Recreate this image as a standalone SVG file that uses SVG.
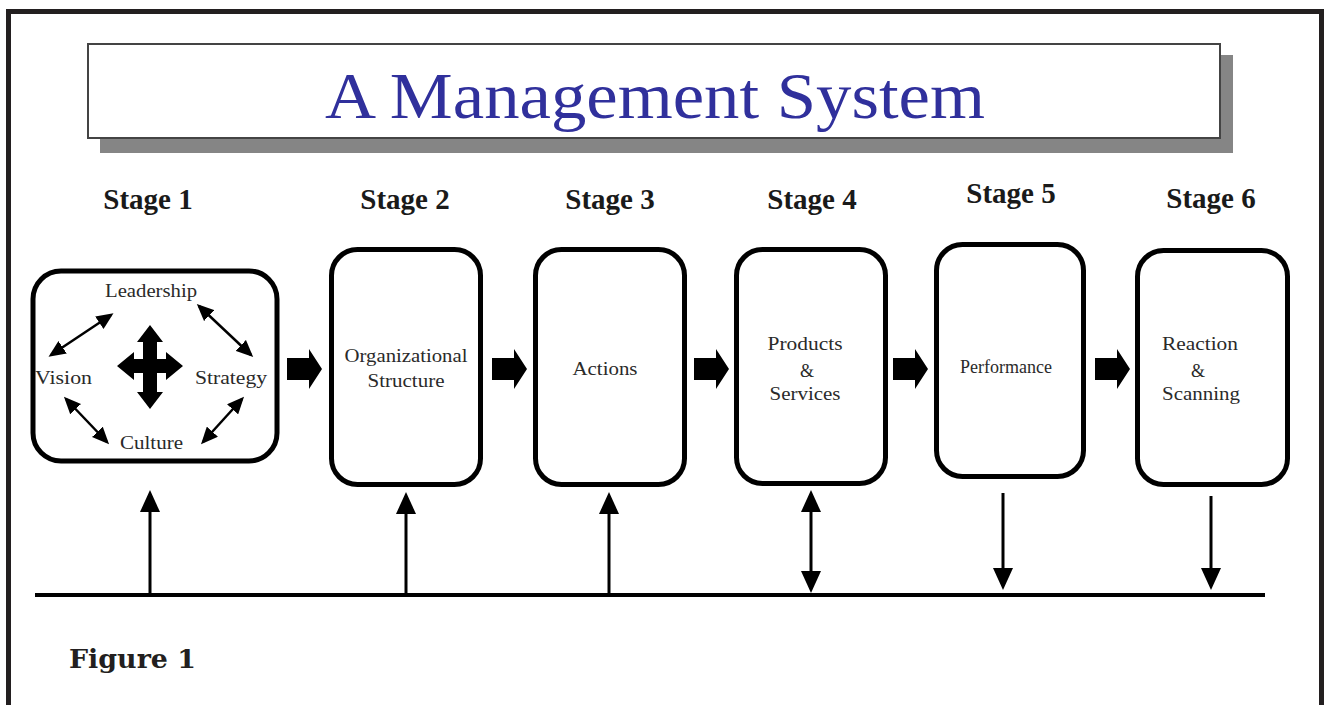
<svg xmlns="http://www.w3.org/2000/svg" width="1325" height="705" viewBox="0 0 1325 705">
  <defs>
    <style>
      .frame { fill: none; stroke: #231f20; stroke-width: 5; }
      .stage { font-family: "Liberation Serif", "Times New Roman", serif; font-weight: bold; font-size: 29px; fill: #1a1a1a; text-anchor: middle; }
      .box { fill: #ffffff; stroke: #000000; stroke-width: 5; }
      .lbl { font-family: "Liberation Serif", "Times New Roman", serif; font-size: 18px; fill: #2a2a2a; text-anchor: middle; }
      .lbl1 { font-family: "Liberation Serif", "Times New Roman", serif; font-size: 18px; fill: #2a2a2a; }
      .thin { stroke: #000000; stroke-width: 3; fill: none; }
      .tiny { stroke: #000000; stroke-width: 2.5; fill: none; }
      .blk { fill: #000000; }
    </style>
    <marker id="headBig" viewBox="0 0 22 20" markerWidth="22" markerHeight="20" refX="18" refY="10" orient="auto-start-reverse" markerUnits="userSpaceOnUse">
      <path d="M0,0 L22,10 L0,20 Z" fill="#000000"/>
    </marker>
    <marker id="headSmall" viewBox="0 0 17 15" markerWidth="17" markerHeight="15" refX="14" refY="7.5" orient="auto-start-reverse" markerUnits="userSpaceOnUse">
      <path d="M0,0 L17,7.5 L0,15 Z" fill="#000000"/>
    </marker>
    <path id="blockArrow" d="M0,-11 H22 V-20 L35,0 L22,20 V11 H0 Z"/>
  </defs>

  <rect x="0" y="0" width="1325" height="705" fill="#ffffff"/>
  <path class="frame" d="M8.5,705 V11.5 H1321.5 V705"/>

  <g id="title">
    <rect x="100" y="55" width="1133" height="98" fill="#858585"/>
    <rect x="88" y="44" width="1132" height="94" fill="#ffffff" stroke="#444444" stroke-width="2"/>
    <text x="655" y="118" font-family="Liberation Serif, Times New Roman, serif" font-size="66" fill="#30309c" text-anchor="middle" textLength="660" lengthAdjust="spacingAndGlyphs">A Management System</text>
  </g>

  <g id="stage-labels">
    <text class="stage" x="148" y="209">Stage 1</text>
    <text class="stage" x="405" y="209">Stage 2</text>
    <text class="stage" x="610" y="209">Stage 3</text>
    <text class="stage" x="812" y="209">Stage 4</text>
    <text class="stage" x="1011" y="203">Stage 5</text>
    <text class="stage" x="1211" y="208">Stage 6</text>
  </g>

  <g id="stage1">
    <rect class="box" x="33" y="271" width="244" height="190" rx="28"/>
    <text class="lbl1" x="105" y="297" textLength="92" lengthAdjust="spacingAndGlyphs">Leadership</text>
    <text class="lbl1" x="35" y="384" textLength="57" lengthAdjust="spacingAndGlyphs">Vision</text>
    <text class="lbl1" x="195" y="384" textLength="72" lengthAdjust="spacingAndGlyphs">Strategy</text>
    <text class="lbl1" x="120" y="449" textLength="63" lengthAdjust="spacingAndGlyphs">Culture</text>
    <line class="tiny" x1="51" y1="355" x2="111" y2="315" marker-start="url(#headSmall)" marker-end="url(#headSmall)"/>
    <line class="tiny" x1="199" y1="306" x2="251" y2="355" marker-start="url(#headSmall)" marker-end="url(#headSmall)"/>
    <line class="tiny" x1="66" y1="399" x2="107" y2="442" marker-start="url(#headSmall)" marker-end="url(#headSmall)"/>
    <line class="tiny" x1="203" y1="442" x2="242" y2="399" marker-start="url(#headSmall)" marker-end="url(#headSmall)"/>
    <path class="blk" d="M150,325 L163,342 L157,342 L157,359 L166,359 L166,352 L183,366 L166,380 L166,373 L157,373 L157,392 L163,392 L150,409 L137,392 L143,392 L143,373 L134,373 L134,380 L117,366 L134,352 L134,359 L143,359 L143,342 L137,342 Z"/>
  </g>

  <g id="stage2">
    <rect class="box" x="331.5" y="249.5" width="149" height="235" rx="26"/>
    <text class="lbl" x="406" y="362" textLength="123" lengthAdjust="spacingAndGlyphs">Organizational</text>
    <text class="lbl" x="406" y="387" textLength="77" lengthAdjust="spacingAndGlyphs">Structure</text>
  </g>

  <g id="stage3">
    <rect class="box" x="535.5" y="249.5" width="149" height="235" rx="26"/>
    <text class="lbl" x="605" y="375" textLength="65" lengthAdjust="spacingAndGlyphs">Actions</text>
  </g>

  <g id="stage4">
    <rect class="box" x="736.5" y="249.5" width="149" height="234" rx="26"/>
    <text class="lbl" x="805" y="350" textLength="75" lengthAdjust="spacingAndGlyphs">Products</text>
    <text class="lbl" x="807" y="377">&amp;</text>
    <text class="lbl" x="805" y="400" textLength="71" lengthAdjust="spacingAndGlyphs">Services</text>
  </g>

  <g id="stage5">
    <rect class="box" x="936.5" y="244.5" width="147" height="232" rx="26"/>
    <text class="lbl" x="1006" y="373" font-size="15" textLength="92" lengthAdjust="spacingAndGlyphs">Performance</text>
  </g>

  <g id="stage6">
    <rect class="box" x="1137.5" y="250.5" width="150" height="234" rx="26"/>
    <text class="lbl" x="1200" y="350" textLength="76" lengthAdjust="spacingAndGlyphs">Reaction</text>
    <text class="lbl" x="1198" y="377">&amp;</text>
    <text class="lbl" x="1201" y="400" textLength="78" lengthAdjust="spacingAndGlyphs">Scanning</text>
  </g>

  <g id="connectors">
    <use href="#blockArrow" class="blk" transform="translate(287,369)"/>
    <use href="#blockArrow" class="blk" transform="translate(492,369)"/>
    <use href="#blockArrow" class="blk" transform="translate(694,369)"/>
    <use href="#blockArrow" class="blk" transform="translate(893,369)"/>
    <use href="#blockArrow" class="blk" transform="translate(1095,369)"/>

    <line x1="35" y1="595" x2="1265" y2="595" stroke="#000000" stroke-width="4"/>
    <line class="thin" x1="150" y1="595" x2="150" y2="494" marker-end="url(#headBig)"/>
    <line class="thin" x1="406" y1="595" x2="406" y2="496" marker-end="url(#headBig)"/>
    <line class="thin" x1="609" y1="595" x2="609" y2="496" marker-end="url(#headBig)"/>
    <line class="thin" x1="811" y1="494" x2="811" y2="589" marker-start="url(#headBig)" marker-end="url(#headBig)"/>
    <line class="thin" x1="1003" y1="493" x2="1003" y2="586" marker-end="url(#headBig)"/>
    <line class="thin" x1="1211" y1="496" x2="1211" y2="586" marker-end="url(#headBig)"/>
  </g>

  <text x="69" y="668" font-family="DejaVu Serif, serif" font-weight="bold" font-size="26" fill="#231f20" textLength="127" lengthAdjust="spacingAndGlyphs">Figure 1</text>
</svg>
